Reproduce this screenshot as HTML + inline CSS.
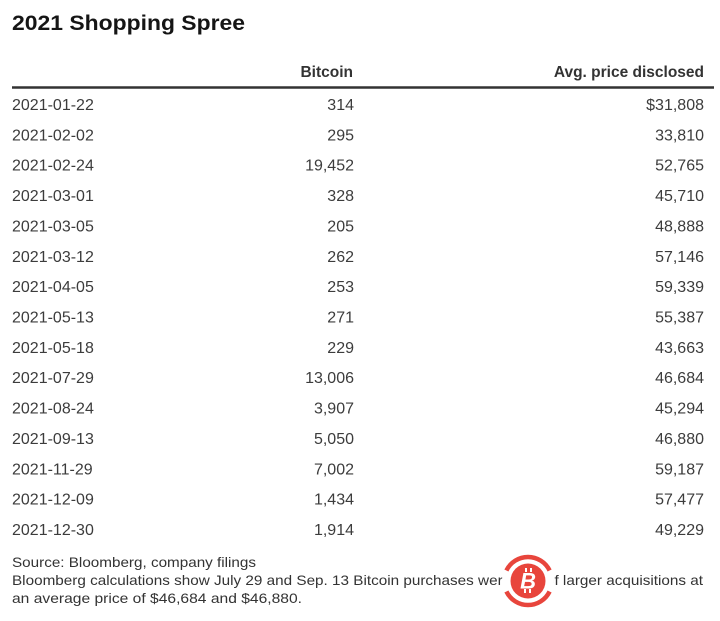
<!DOCTYPE html>
<html>
<head>
<meta charset="utf-8">
<style>
  html, body { margin: 0; padding: 0; background: #ffffff; }
  body { width: 720px; height: 621px; overflow: hidden; }
  svg { display: block; font-family: "Liberation Sans", Arial, sans-serif; }
</style>
</head>
<body>
<svg width="720" height="621" viewBox="0 0 720 621" xmlns="http://www.w3.org/2000/svg">
  <rect x="0" y="0" width="720" height="621" fill="#ffffff"/>

  <!-- Title -->
  <text x="12" y="30" font-size="21.5" font-weight="bold" fill="#151515" textLength="233" lengthAdjust="spacingAndGlyphs">2021 Shopping Spree</text>

  <!-- Header -->
  <text x="353" y="77" font-size="15.5" font-weight="bold" fill="#333" text-anchor="end">Bitcoin</text>
  <text x="704" y="77" font-size="15.5" font-weight="bold" fill="#333" text-anchor="end">Avg. price disclosed</text>
  <line x1="12" y1="87.5" x2="714" y2="87.5" stroke="#333" stroke-width="2.5"/>

  <!-- Rows -->
  <g font-size="16" fill="#3c3c3c">
    <text x="12" y="110">2021-01-22</text><text x="354" y="110" text-anchor="end">314</text><text x="704" y="110" text-anchor="end">$31,808</text>
    <text x="12" y="140.4">2021-02-02</text><text x="354" y="140.4" text-anchor="end">295</text><text x="704" y="140.4" text-anchor="end">33,810</text>
    <text x="12" y="170.7">2021-02-24</text><text x="354" y="170.7" text-anchor="end">19,452</text><text x="704" y="170.7" text-anchor="end">52,765</text>
    <text x="12" y="201.1">2021-03-01</text><text x="354" y="201.1" text-anchor="end">328</text><text x="704" y="201.1" text-anchor="end">45,710</text>
    <text x="12" y="231.4">2021-03-05</text><text x="354" y="231.4" text-anchor="end">205</text><text x="704" y="231.4" text-anchor="end">48,888</text>
    <text x="12" y="261.8">2021-03-12</text><text x="354" y="261.8" text-anchor="end">262</text><text x="704" y="261.8" text-anchor="end">57,146</text>
    <text x="12" y="292.2">2021-04-05</text><text x="354" y="292.2" text-anchor="end">253</text><text x="704" y="292.2" text-anchor="end">59,339</text>
    <text x="12" y="322.5">2021-05-13</text><text x="354" y="322.5" text-anchor="end">271</text><text x="704" y="322.5" text-anchor="end">55,387</text>
    <text x="12" y="352.9">2021-05-18</text><text x="354" y="352.9" text-anchor="end">229</text><text x="704" y="352.9" text-anchor="end">43,663</text>
    <text x="12" y="383.2">2021-07-29</text><text x="354" y="383.2" text-anchor="end">13,006</text><text x="704" y="383.2" text-anchor="end">46,684</text>
    <text x="12" y="413.6">2021-08-24</text><text x="354" y="413.6" text-anchor="end">3,907</text><text x="704" y="413.6" text-anchor="end">45,294</text>
    <text x="12" y="444.0">2021-09-13</text><text x="354" y="444.0" text-anchor="end">5,050</text><text x="704" y="444.0" text-anchor="end">46,880</text>
    <text x="12" y="474.3">2021-11-29</text><text x="354" y="474.3" text-anchor="end">7,002</text><text x="704" y="474.3" text-anchor="end">59,187</text>
    <text x="12" y="504.7">2021-12-09</text><text x="354" y="504.7" text-anchor="end">1,434</text><text x="704" y="504.7" text-anchor="end">57,477</text>
    <text x="12" y="535">2021-12-30</text><text x="354" y="535" text-anchor="end">1,914</text><text x="704" y="535" text-anchor="end">49,229</text>
  </g>

  <!-- Footer -->
  <g font-size="14" fill="#333">
    <text x="12" y="567" textLength="244" lengthAdjust="spacingAndGlyphs">Source: Bloomberg, company filings</text>
    <text x="12" y="585" textLength="691" lengthAdjust="spacingAndGlyphs">Bloomberg calculations show July 29 and Sep. 13 Bitcoin purchases were part of larger acquisitions at</text>
    <text x="12" y="603" textLength="290" lengthAdjust="spacingAndGlyphs">an average price of $46,684 and $46,880.</text>
  </g>

  <!-- Watermark -->
  <g transform="translate(528,581)">
    <circle r="26" fill="#ffffff"/>
    <path d="M -21.6 -10.5 A 24 24 0 0 1 21.6 -10.5" fill="none" stroke="#e8453c" stroke-width="4.5"/>
    <path d="M -21.6 10.5 A 24 24 0 0 0 21.6 10.5" fill="none" stroke="#e8453c" stroke-width="4.5"/>
    <circle r="17.5" fill="#e8453c"/>
    <text x="0" y="7.5" font-size="22" font-weight="bold" fill="#ffffff" text-anchor="middle" font-style="italic">B</text>
    <line x1="-2" y1="-13" x2="-2" y2="-9" stroke="#fff" stroke-width="2"/>
    <line x1="3" y1="-13" x2="3" y2="-9" stroke="#fff" stroke-width="2"/>
    <line x1="-3" y1="8" x2="-3" y2="12" stroke="#fff" stroke-width="2"/>
    <line x1="2" y1="8" x2="2" y2="12" stroke="#fff" stroke-width="2"/>
  </g>
</svg>
</body>
</html>
